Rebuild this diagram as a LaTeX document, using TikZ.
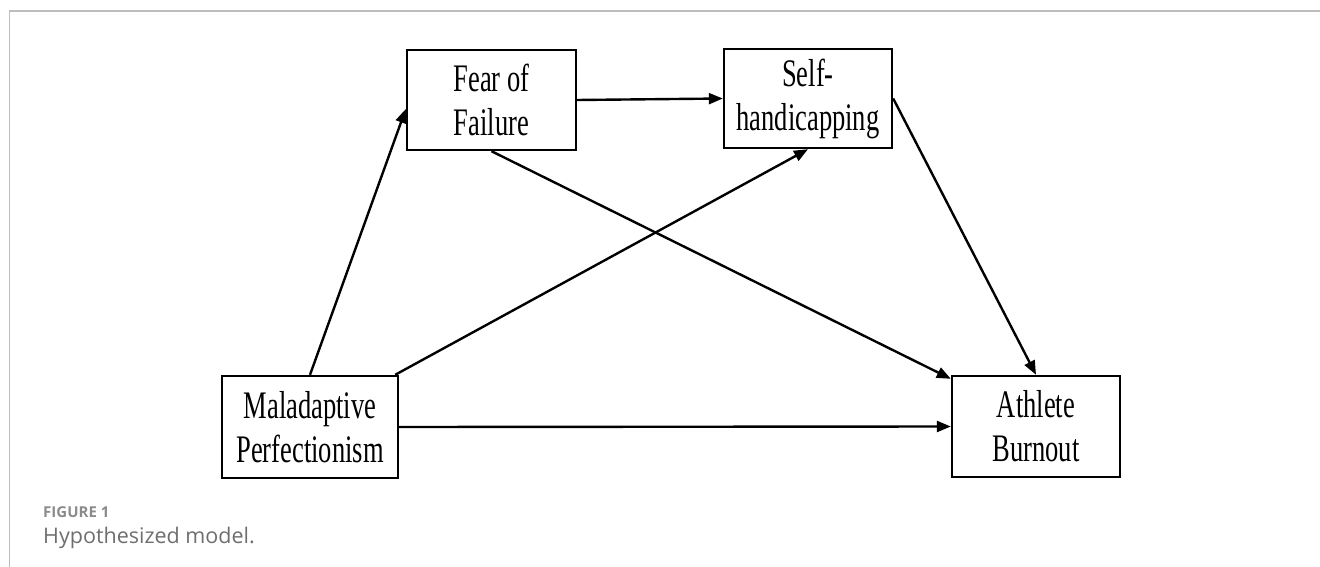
\documentclass[tikz,border=0pt]{standalone}
\usepackage{fontspec}
\setmainfont{Liberation Serif}
\newfontfamily\boxfont{Liberation Serif}[FakeStretch=0.68]
\newfontfamily\capfont{Open Sans}
\usepackage{xcolor}
\usepackage{tikz}
\usetikzlibrary{positioning,calc,arrows.meta}
\definecolor{framegray}{HTML}{BDBDBD}
\definecolor{capgray}{HTML}{6E6E6E}
\tikzstyle{arrow} = [-{Triangle[length=14pt,width=11pt]}, line width=2.4pt]
\tikzstyle{var} = [draw, line width=2.4pt, inner sep=0pt, align=center, font=\boxfont\fontsize{39}{44}\selectfont]

\begin{document}
\begin{tikzpicture}[x=1pt, y=-1pt]
    \useasboundingbox (0,0) rectangle (1320,567);
    % Figure frame
    \draw[framegray, line width=1.5pt] (9.5,567) -- (9.5,11) -- (1320,11);

    % Variables
    \node[var, minimum width=169pt, minimum height=100pt] (fof) at (491.5,100) {Fear of\\Failure};
    \node[var, minimum width=168pt, minimum height=99pt] (sh) at (808,98.5) {Self-\\handicapping};
    \node[var, minimum width=176pt, minimum height=102pt] (mal) at (310,427) {Maladaptive\\Perfectionism};
    \node[var, minimum width=168pt, minimum height=101pt] (ab) at (1036,426.5) {Athlete\\Burnout};

    % Paths
    \draw[arrow] (mal.north) -- ([yshift=-9pt]fof.west);
    \draw[arrow] ([xshift=-4pt]mal.north east) -- (sh.south);
    \draw[arrow] (fof.east) -- (sh.west);
    \draw[arrow] (fof.south) -- ([yshift=-4pt]ab.north west);
    \draw[arrow] (sh.east) -- (ab.north);
    \draw[arrow] (mal.east) -- (ab.west);

    % Caption
    \node[anchor=base west, inner sep=0pt, text=capgray!80, font=\capfont\bfseries\fontsize{15}{18}\selectfont] (fig) at (43,517) {FIGURE 1};
    \node[anchor=base west, inner sep=0pt, text=capgray, font=\capfont\fontsize{21.5}{26}\selectfont] (cap) at (43,543) {Hypothesized model.};
\end{tikzpicture}
\end{document}
